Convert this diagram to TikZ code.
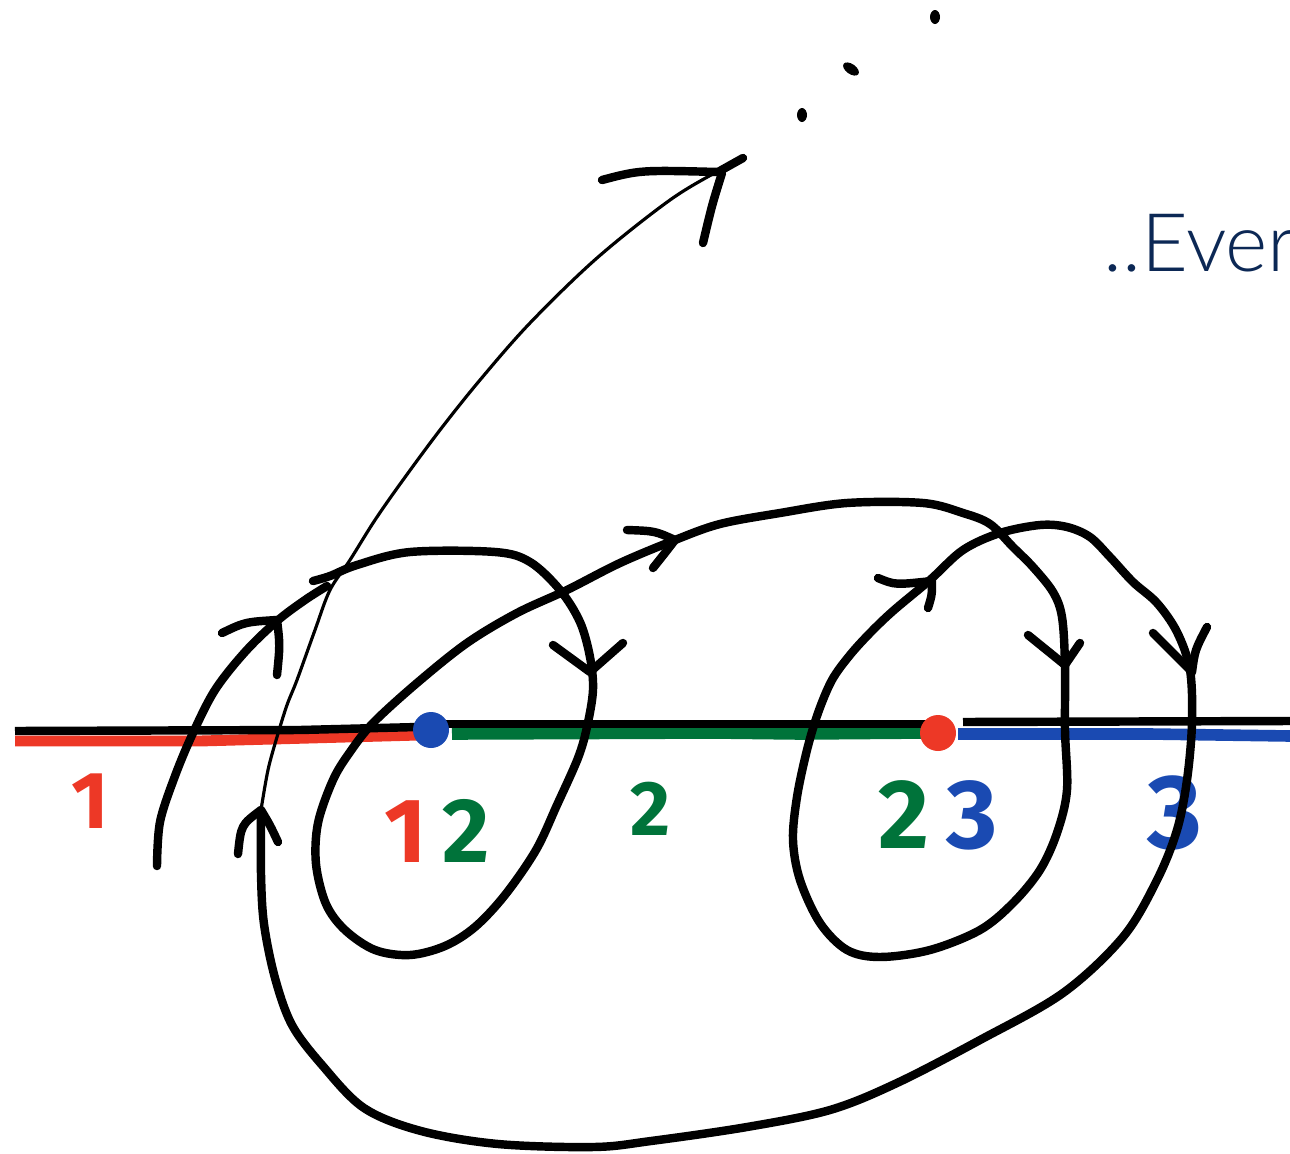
\documentclass[tikz,border=0pt]{standalone}
\usepackage{fontspec}
\usepackage{tikz}
\usepackage[dvipsnames,svgnames]{xcolor}
\newfontfamily\angkafont{Fira Sans}
\newfontfamily\everfont{Lato}[UprightFont=* Light]

\definecolor{merah}{RGB}{237,56,38}
\definecolor{hijau}{RGB}{0,115,58}
\definecolor{biru}{RGB}{26,74,178}
\definecolor{navy}{RGB}{12,40,85}

\tikzset{
  pena/.style={line width=2.4pt,line cap=round,line join=round},
  penatipis/.style={line width=0.9pt,line cap=round},
  angka/.style={inner sep=0pt}
}
\newcommand{\ukuran}[1]{\angkafont\bfseries\fontsize{#1}{#1}\selectfont}

\begin{document}
\begin{tikzpicture}[x=0.01cm,y=-0.01cm]
    \useasboundingbox (0,0) rectangle (1290,1154);
    \clip (0,0) rectangle (1290,1154);

    % Gambar garis bilangan berwarna (merah, hijau, biru)
    \draw[line width=3.1pt,merah] (15,741) -- (200,741) -- (420,735);
    \draw[line width=3.3pt,hijau] (452,734) -- (715,733) -- (800,734) -- (925,733);
    \draw[line width=3.3pt,biru] (958,734) -- (1150,734) -- (1290,736);

    % Gambar garis hitam di atasnya
    \draw[line width=2.4pt] (15,731) -- (300,730) -- (418,727);
    \draw[line width=2.4pt] (446,724) -- (926,724);
    \draw[line width=2.4pt] (963,722) -- (1290,721);

    % Gambar titik di 12 dan 23
    \fill[biru] (431,730) circle (18) node (t12) {};
    \fill[merah] (938,733) circle (18) node (t23) {};

    % Gambar label daerah
    \node[angka,merah,anchor=base,font=\ukuran{23}] (l1) at (90,828) {1};
    \node[angka,anchor=base,font=\ukuran{26}] (l12) at (437,862) {\textcolor{merah}{1}\,\textcolor{hijau}{2}};
    \node[angka,hijau,anchor=base,font=\ukuran{22}] (l2) at (650,835) {2};
    \node[angka,anchor=base,font=\ukuran{28}] (l23) at (938,848) {\textcolor{hijau}{2}\,\textcolor{biru}{3}};
    \node[angka,biru,anchor=base,font=\ukuran{30}] (l3) at (1175,848) {3};

    % Gambar lintasan tebal
    \draw[pena] plot[smooth,tension=0.55] coordinates {(157,866) (160,822) (175,776) (193,733) (215,690) (245,652) (277,621) (305,600) (327,586)};
    \draw[pena] plot[smooth,tension=0.55] coordinates {(313,581) (330,576) (357,565) (410,552) (495,552) (530,562) (560,590) (580,622) (590,657) (593,690) (587,727) (578,758) (557,805) (536,850) (505,895) (475,927) (445,946) (410,955) (375,950) (345,930) (326,904) (316,864) (318,823) (333,780) (350,752) (373,723) (417,683) (467,643) (517,613) (567,590) (620,563) (675,540) (720,524) (780,513) (847,503) (923,503) (963,513) (990,524) (1013,547) (1033,567) (1053,592) (1062,617) (1065,665) (1065,730) (1067,790) (1057,833) (1040,870) (1013,903) (980,930) (930,950) (880,957) (847,950) (820,923) (800,880) (793,840) (797,797) (807,750) (818,713) (832,680) (850,655) (870,633) (893,611) (930,580) (963,550) (1000,533) (1040,525) (1067,527) (1090,537) (1110,557) (1133,582) (1157,603) (1177,632) (1190,670) (1192,723) (1187,780) (1177,830) (1157,880) (1123,937) (1063,993) (980,1040) (897,1083) (830,1110) (747,1127) (651,1141) (594,1147) (498,1144) (421,1131) (364,1108) (322,1065) (292,1025) (275,978) (264,924) (261,874) (261,810)};

    % Gambar lintasan tipis menuju titik-titik
    \draw[penatipis] plot[smooth,tension=0.55] coordinates {(261,810) (268,770) (277,737) (287,705) (297,680) (315,630) (330,590) (350,560) (375,520) (403,480) (440,430) (480,380) (530,323) (597,258) (670,200) (720,170) (743,158)};

    % Gambar kepala panah
    \draw[pena] (222,633) .. controls (245,622) .. (277,620) .. controls (280,645) .. (277,675);
    \draw[pena] (553,645) -- (590,672) -- (623,643);
    \draw[pena] (627,530) .. controls (655,531) .. (675,540) .. controls (665,553) .. (653,568);
    \draw[pena] (1028,635) -- (1065,665) -- (1080,643);
    \draw[pena] (878,578) .. controls (895,585) .. (932,581) .. controls (932,595) .. (928,608);
    \draw[pena] (1153,633) -- (1192,672) .. controls (1195,650) .. (1207,627);
    \draw[pena] (238,854) .. controls (241,825) .. (261,810) .. controls (270,825) .. (278,842);
    \draw[pena] (602,180) .. controls (640,170) .. (718,172) -- (743,158);
    \draw[pena] (703,243) .. controls (712,205) .. (722,173);

    % Gambar titik-titik
    \fill (802,115) ellipse (5 and 7);
    \fill[rotate around={-35:(851,69)}] (851,69) ellipse (9 and 5);
    \fill (935,17) ellipse (5 and 7);

    % Tulisan di kanan atas
    \node[anchor=base west,inner sep=0pt,navy,font=\everfont\fontsize{23}{27}\selectfont] (ever) at (1103,271) {..Ever};

\end{tikzpicture}
\end{document}
